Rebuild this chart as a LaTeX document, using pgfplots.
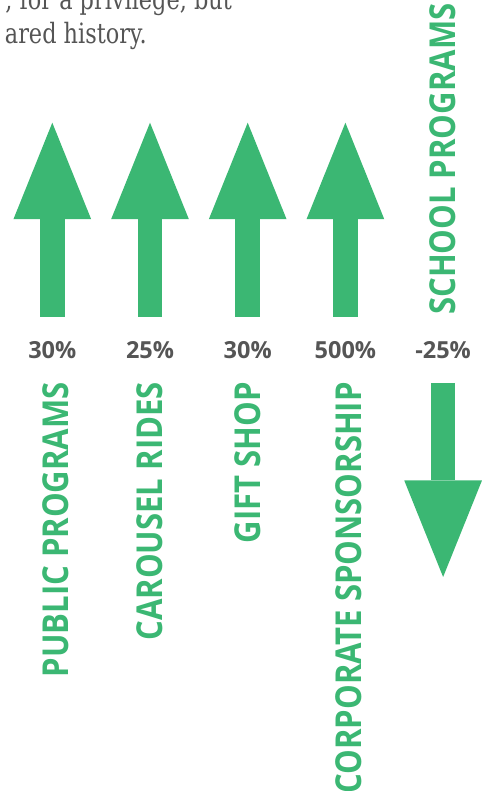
\documentclass[border=0pt]{standalone}
\usepackage{fontspec}
\usepackage{pgfplots}
\pgfplotsset{compat=1.18}
\usepackage{pgfplotstable}
\usetikzlibrary{arrows.meta}
\setmainfont{Open Sans}
\newfontfamily\labfont{Open Sans Bold}[FakeStretch=0.87]
\newfontfamily\pctfont{Open Sans Bold}
\newfontfamily\serifx{DejaVu Serif}[FakeStretch=0.8]
\definecolor{arrowgreen}{HTML}{3BB773}
\definecolor{txtgray}{HTML}{555555}

% arrows: x index, start y, direction vector, percentage change
\pgfplotstableread{
x   y0     u  v     pct
0   474.3  0  194   30
1   474.3  0  194   25
2   474.3  0  194   30
3   474.3  0  194   500
4   408.0  0  -194  -25
}\arrowdata

\pgfplotstableread{
lx     ly   name
0.033  409  {PUBLIC PROGRAMS}
1.0    409  {CAROUSEL RIDES}
2.0    409  {GIFT SHOP}
3.03   409  {CORPORATE SPONSORSHIP}
}\belowlabels

\pgfplotstableread{
lx     ly   name
4.0    476  {SCHOOL PROGRAMS}
}\abovelabels

\begin{document}
\begin{tikzpicture}[x=1pt,y=1pt]
\useasboundingbox (0,0) rectangle (484,791);
\clip (0,0) rectangle (484,791);
\begin{axis}[
  at={(0,0)}, anchor=south west,
  width=484pt, height=791pt, scale only axis,
  xmin=-0.5353, xmax=4.4186, ymin=0, ymax=791,
  axis lines=none, clip=false,
]
% arrows
\addplot[quiver={u=\thisrow{u}, v=\thisrow{v}},
  draw=arrowgreen, fill=arrowgreen, line width=24.7pt,
  -{Triangle[width=77.7pt, length=96.5pt, line width=0pt]}]
  table[x=x, y=y0] {\arrowdata};
% percentage labels
\addplot[draw=none, mark=none,
  point meta=explicit,
  nodes near coords={\pgfmathprintnumber[assume math mode=true]{\pgfplotspointmeta}\%},
  nodes near coords style={anchor=center, inner sep=0pt, text=txtgray,
     font=\pctfont\fontsize{23.5}{23.5}\selectfont}]
  table[x=x, y expr=441.2, meta=pct] {\arrowdata};
% category labels below
\addplot[draw=none, mark=none,
  point meta=explicit symbolic,
  nodes near coords,
  nodes near coords style={rotate=90, anchor=east, inner sep=0pt, text=arrowgreen,
     font=\labfont\fontsize{35.7}{36}\selectfont}]
  table[x=lx, y=ly, meta=name] {\belowlabels};
% category label above
\addplot[draw=none, mark=none,
  point meta=explicit symbolic,
  nodes near coords,
  nodes near coords style={rotate=90, anchor=west, inner sep=0pt, text=arrowgreen,
     font=\labfont\fontsize{35.7}{36}\selectfont}]
  table[x=lx, y=ly, meta=name] {\abovelabels};
\end{axis}
\node[anchor=base east, inner sep=0pt, text=txtgray, font=\serifx\fontsize{28}{34}\selectfont] at (232,781) {, for a privilege, but};
\node[anchor=base east, inner sep=0pt, text=txtgray, font=\serifx\fontsize{28}{34}\selectfont] at (147,747) {ared history.};
\end{tikzpicture}
\end{document}
